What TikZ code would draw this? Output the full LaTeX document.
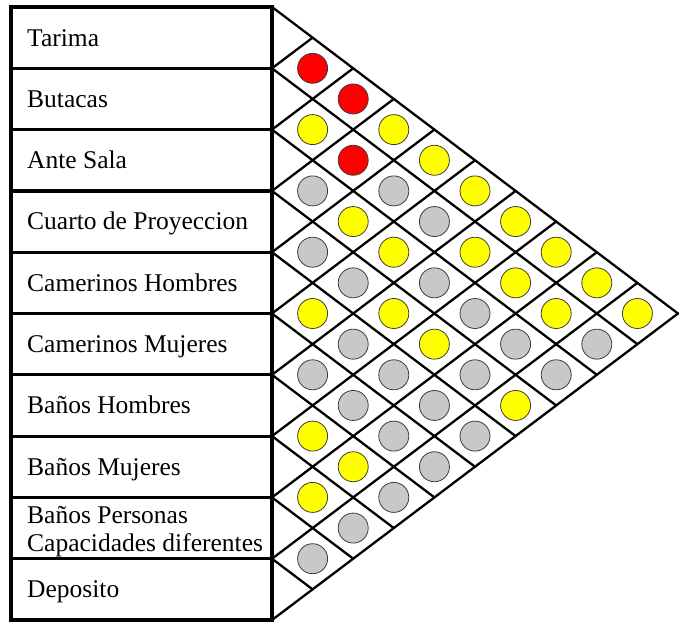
\documentclass[tikz,border=0pt]{standalone}
\usepackage{fontspec}
\setmainfont{Liberation Serif}
\definecolor{cR}{RGB}{255,0,0}
\definecolor{cY}{RGB}{255,255,0}
\definecolor{cG}{RGB}{200,200,200}
\definecolor{dotline}{RGB}{60,60,60}
\begin{document}
\begin{tikzpicture}[x=1pt,y=-1pt,
  tabline/.style={line width=3.2pt,line cap=rect,line join=miter},
  gridline/.style={line width=2.3pt,line cap=round},
  dot/.style={circle,minimum size=30pt,inner sep=0pt,draw=dotline,line width=0.8pt},
  lab/.style={anchor=base west,inner sep=0pt,font=\fontsize{25.5}{28}\selectfont,align=left}]
\def\rowh{61.3}
\def\colw{40.6}
\useasboundingbox (0,0) rectangle (682,621);
% left boundary points of the triangle
\foreach \k in {0,...,10}{
  \coordinate (L\k) at (272,{7+\k*\rowh});
  \coordinate (T\k) at (11,{7+\k*\rowh});
}
% diagonal grid
\foreach \k in {0,...,10}{
  \pgfmathsetmacro{\dn}{10-\k}
  \draw[gridline] (L\k) -- ++({\dn*\colw},{\dn*\rowh/2});
  \draw[gridline] (L\k) -- ++({\k*\colw},{-\k*\rowh/2});
}
% circles
\foreach \d/\cols in {1/{R,Y,G,G,Y,G,Y,Y,G},2/{R,R,Y,G,G,G,Y,G},3/{Y,G,Y,Y,G,G,G},
  4/{Y,G,G,Y,G,G},5/{Y,Y,G,G,G},6/{Y,Y,G,Y},7/{Y,Y,G},8/{Y,G},9/{Y}}{
  \foreach \c [count=\a from 0] in \cols {
    \pgfmathtruncatemacro{\b}{\a+\d}
    \node[dot,fill=c\c] (c-\a-\b) at ({272+\d*\colw},{7+\rowh*(\a+\b+1)/2}) {};
  }
}
% table
\foreach \k in {1,...,9}{
  \draw[tabline] (T\k) -- (L\k);
}
\draw[tabline] (T0) rectangle (L10);
% labels
\node[lab] (r0) at (27,{7+0.5*\rowh+8.4}) {Tarima};
\node[lab] (r1) at (27,{7+1.5*\rowh+8.4}) {Butacas};
\node[lab] (r2) at (27,{7+2.5*\rowh+8.4}) {Ante Sala};
\node[lab] (r3) at (27,{7+3.5*\rowh+8.4}) {Cuarto de Proyeccion};
\node[lab] (r4) at (27,{7+4.5*\rowh+8.4}) {Camerinos Hombres};
\node[lab] (r5) at (27,{7+5.5*\rowh+8.4}) {Camerinos Mujeres};
\node[lab] (r6) at (27,{7+6.5*\rowh+8.4}) {Baños Hombres};
\node[lab] (r7) at (27,{7+7.5*\rowh+8.4}) {Baños Mujeres};
\node[lab] (r8) at (27,551) {Baños Personas\\Capacidades diferentes};
\node[lab] (r9) at (27,{7+9.5*\rowh+8.4}) {Deposito};
\end{tikzpicture}
\end{document}
